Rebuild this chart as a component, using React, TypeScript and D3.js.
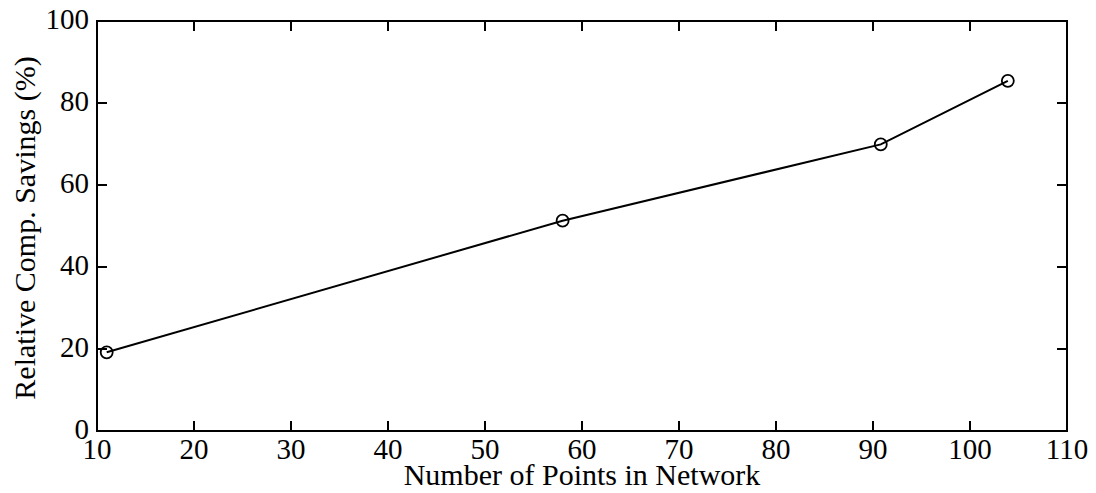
import React from "react";
import * as d3 from "d3";

const networkPoints = [11, 58, 90.8, 103.9];
const savingsPct = [19.2, 51.3, 69.9, 85.4];
const xTicks = [10, 20, 30, 40, 50, 60, 70, 80, 90, 100, 110];
const yTicks = [0, 20, 40, 60, 80, 100];

const W = 1096;
const H = 493;
const left = 97;
const right = 1067;
const top = 21;
const bottom = 431;
const font = "'Liberation Serif', 'Times New Roman', serif";

export default function App() {
  const x = d3.scaleLinear().domain([10, 110]).range([left, right]);
  const y = d3.scaleLinear().domain([0, 100]).range([bottom, top]);
  const pts = networkPoints.map((v, i) => [v, savingsPct[i]] as [number, number]);
  const line = d3.line<[number, number]>().x((d) => x(d[0])).y((d) => y(d[1]));
  const tick = 10;

  return (
    <svg width={W} height={H} style={{ position: "absolute", left: 0, top: 0, background: "#fff" }}>
      <rect x={0} y={0} width={W} height={H} fill="#fff" />
      <g stroke="#000" strokeWidth={2} fill="none">
        <rect x={left} y={top} width={right - left} height={bottom - top} />
        {xTicks.slice(1, -1).map((t) => (
          <g key={"xt" + t}>
            <line x1={x(t)} x2={x(t)} y1={bottom} y2={bottom - tick} />
            <line x1={x(t)} x2={x(t)} y1={top} y2={top + tick} />
          </g>
        ))}
        {yTicks.slice(1, -1).map((t) => (
          <g key={"yt" + t}>
            <line x1={left} x2={left + tick} y1={y(t)} y2={y(t)} />
            <line x1={right} x2={right - tick} y1={y(t)} y2={y(t)} />
          </g>
        ))}
      </g>
      <g fontFamily={font} fill="#000">
        <g fontSize={29}>
          {xTicks.map((t) => (
            <text key={"xl" + t} x={x(t)} y={bottom + 28} textAnchor="middle">
              {t}
            </text>
          ))}
          {yTicks.map((t) => (
            <text key={"yl" + t} x={left - 8} y={y(t) + 8} textAnchor="end">
              {t}
            </text>
          ))}
        </g>
        <g fontSize={30}>
          <text x={582} y={485} textAnchor="middle">
            Number of Points in Network
          </text>
          <text
            transform={`translate(${35},${228}) rotate(-90)`}
            textAnchor="middle"
          >
            Relative Comp. Savings (%)
          </text>
        </g>
      </g>
      <path d={line(pts) || ""} fill="none" stroke="#000" strokeWidth={2} />
      {pts.map((p, i) => (
        <circle key={i} cx={x(p[0])} cy={y(p[1])} r={6} fill="none" stroke="#000" strokeWidth={1.8} />
      ))}
    </svg>
  );
}
